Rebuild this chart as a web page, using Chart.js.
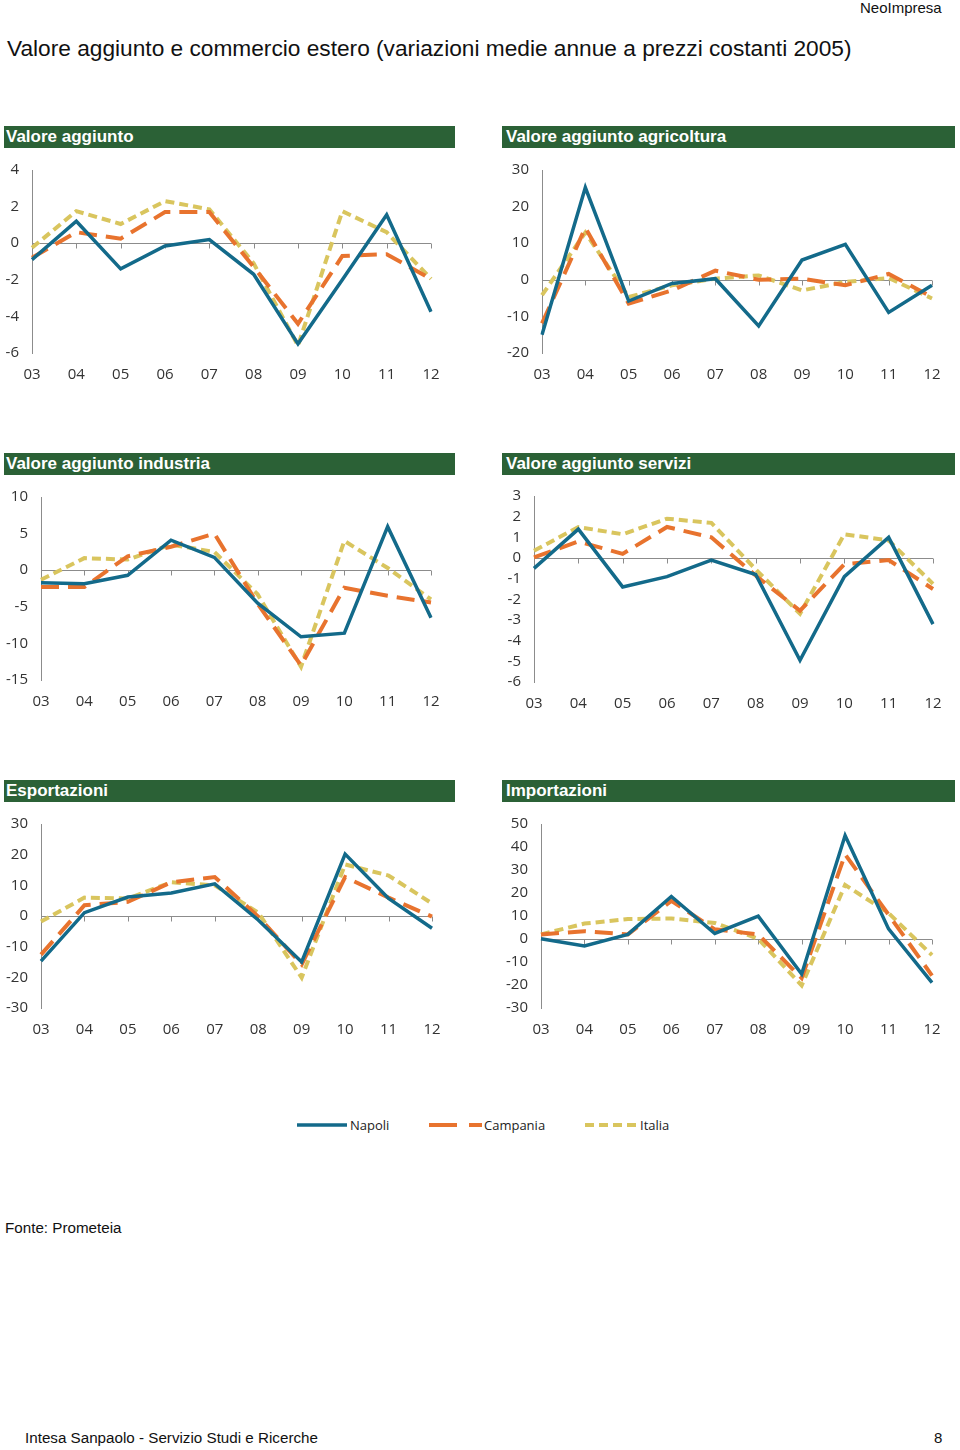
<!DOCTYPE html>
<html>
<head>
<meta charset="utf-8">
<script src="https://cdn.jsdelivr.net/npm/chart.js@4.4.1/dist/chart.umd.min.js"></script>
<style>
    body { margin: 0; width: 960px; height: 1450px; background: #fff; position: relative; font-family: "Liberation Sans", Arial, sans-serif; color: #111; }
    .abs { position: absolute; white-space: nowrap; }
    .bar { position: absolute; height: 22px; background: #2b6136; color: #fff; font-weight: bold; font-size: 17px; line-height: 22px; padding-left: 2px; box-sizing: border-box; }
    .bar.right { padding-left: 4px; }
    .box { position: absolute; }
    .legend { position: absolute; top: 1116px; font-family: "Open Sans", sans-serif; font-size: 13px; color: #222; display: flex; align-items: center; }
</style>
</head>
<body>
<div class="abs" style="left:860px; top:-1px; font-size:15px;">NeoImpresa</div>
<div class="abs" style="left:7px; top:35px; font-size:22.7px;">Valore aggiunto e commercio estero (variazioni medie annue a prezzi costanti 2005)</div>

<div class="bar" style="left:4px; top:126px; width:451px;">Valore aggiunto</div>
<div class="bar right" style="left:502px; top:126px; width:453px;">Valore aggiunto agricoltura</div>
<div class="bar" style="left:4px; top:453px; width:451px;">Valore aggiunto industria</div>
<div class="bar right" style="left:502px; top:453px; width:453px;">Valore aggiunto servizi</div>
<div class="bar" style="left:4px; top:780px; width:451px;">Esportazioni</div>
<div class="bar right" style="left:502px; top:780px; width:453px;">Importazioni</div>

<div class="box" id="b1"><canvas id="c1"></canvas></div>
<div class="box" id="b2"><canvas id="c2"></canvas></div>
<div class="box" id="b3"><canvas id="c3"></canvas></div>
<div class="box" id="b4"><canvas id="c4"></canvas></div>
<div class="box" id="b5"><canvas id="c5"></canvas></div>
<div class="box" id="b6"><canvas id="c6"></canvas></div>

<div class="legend" style="left:296px;">
    <svg width="52" height="8"><line x1="1" y1="4" x2="51" y2="4" stroke="#136a8a" stroke-width="3.5"/></svg>
    <span style="margin-left:2px;">Napoli</span>
</div>
<div class="legend" style="left:429px;">
    <svg width="53" height="8"><line x1="0" y1="4" x2="53" y2="4" stroke="#e8732e" stroke-width="4" stroke-dasharray="28,12"/></svg>
    <span style="margin-left:2px;">Campania</span>
</div>
<div class="legend" style="left:585px;">
    <svg width="53" height="8"><line x1="0" y1="4" x2="53" y2="4" stroke="#d9c55e" stroke-width="4" stroke-dasharray="9,5"/></svg>
    <span style="margin-left:2px;">Italia</span>
</div>

<div class="abs" style="left:5px; top:1219px; font-size:15.2px;">Fonte: Prometeia</div>
<div class="abs" style="left:25px; top:1429px; font-size:15.2px;">Intesa Sanpaolo - Servizio Studi e Ricerche</div>
<div class="abs" style="left:934px; top:1429px; font-size:15px;">8</div>

<script>
    "use strict";

    const years = ['03', '04', '05', '06', '07', '08', '09', '10', '11', '12'];

    // Valore aggiunto
    const vaNapoli = [-0.9, 1.2, -1.4, -0.15, 0.2, -1.7, -5.5, -2.0, 1.55, -3.75];
    const vaCampania = [-0.8, 0.6, 0.25, 1.7, 1.7, -1.3, -4.4, -0.7, -0.6, -1.95];
    const vaItalia = [-0.25, 1.75, 1.05, 2.3, 1.85, -1.1, -5.6, 1.75, 0.6, -1.95];

    // Valore aggiunto agricoltura
    const agrNapoli = [-15, 25.2, -5.8, -1, 0.3, -12.6, 5.4, 9.7, -8.9, -1.5];
    const agrCampania = [-11.9, 14.2, -6.5, -2.9, 2.5, 0, 0.3, -1.5, 1.6, -4.7];
    const agrItalia = [-4.2, 12.9, -4.7, -1.5, 0.3, 1.2, -2.9, -0.6, 0.5, -5.1];

    // Valore aggiunto industria
    const indNapoli = [-1.7, -1.85, -0.7, 4.1, 1.75, -4.5, -9.1, -8.6, 5.95, -6.5];
    const indCampania = [-2.3, -2.3, 1.9, 3.2, 5.0, -4.6, -13.0, -2.4, -3.5, -4.4];
    const indItalia = [-1.3, 1.65, 1.45, 3.5, 2.5, -3.3, -13.2, 4.0, 0.3, -4.0];

    // Valore aggiunto servizi
    const serNapoli = [-0.5, 1.4, -1.4, -0.9, -0.1, -0.8, -4.95, -0.9, 1.0, -3.2];
    const serCampania = [0.03, 0.8, 0.2, 1.5, 1.0, -0.85, -2.55, -0.3, -0.1, -1.5];
    const serItalia = [0.35, 1.5, 1.15, 1.9, 1.7, -0.55, -2.7, 1.15, 0.85, -1.25];

    // Esportazioni
    const expNapoli = [-14.7, 1.1, 6.2, 7.5, 10.5, -1.3, -15, 20.2, 5.7, -4];
    const expCampania = [-12.6, 3.5, 4.6, 11, 12.7, -0.2, -15.8, 12.7, 6, -0.2];
    const expItalia = [-1.8, 6, 5.7, 11, 10, 1.1, -20.1, 16.8, 13.2, 4.1];

    // Importazioni
    const impNapoli = [0.1, -3, 2, 18.5, 2.4, 9.9, -15.2, 45, 4.4, -19];
    const impCampania = [2, 3.4, 2, 16.6, 4.2, 2, -17, 36.8, 10.6, -15.9];
    const impItalia = [2, 6.7, 8.7, 8.9, 7, 0.1, -20.2, 23.5, 11.3, -7];

    const colNapoli = '#136a8a';
    const colCampania = '#e8732e';
    const colItalia = '#d9c55e';

    // zero line with small tick marks under each category
    const zeroLine = {
        id: 'zeroLine',
        beforeDatasetsDraw(chart) {
            const x = chart.scales.x;
            const y = chart.scales.y;
            const ctx = chart.ctx;
            const y0 = Math.round(y.getPixelForValue(0)) + 0.5;
            ctx.save();
            ctx.strokeStyle = '#8c8c8c';
            ctx.lineWidth = 1;
            ctx.beginPath();
            ctx.moveTo(chart.chartArea.left, y0);
            ctx.lineTo(chart.chartArea.right, y0);
            for (let i = 1; i < years.length; i++) {
                const px = Math.round(x.getPixelForValue(i)) + 0.5;
                ctx.moveTo(px, y0);
                ctx.lineTo(px, y0 + 5);
            }
            ctx.stroke();
            ctx.restore();
        }
    };

    function makeChart(num, napoli, campania, italia, min, max, step, geo) {
        const box = document.getElementById('b' + num);
        const canvasLeft = geo.left < 480 ? 0 : 485;
        const canvasTop = geo.top - 20;
        const width = 475;
        const height = geo.bottom - canvasTop + 40;
        box.style.left = canvasLeft + 'px';
        box.style.top = canvasTop + 'px';
        box.style.width = width + 'px';
        box.style.height = height + 'px';

        new Chart(document.getElementById('c' + num), {
            type: 'line',
            data: {
                labels: years,
                datasets: [
                    { label: 'Italia', data: italia, borderColor: colItalia, borderWidth: 4, borderDash: [9, 5], order: 3 },
                    { label: 'Campania', data: campania, borderColor: colCampania, borderWidth: 4, borderDash: [18, 9], order: 2 },
                    { label: 'Napoli', data: napoli, borderColor: colNapoli, borderWidth: 3.5, order: 1 }
                ]
            },
            options: {
                responsive: true,
                maintainAspectRatio: false,
                animation: false,
                events: [],
                elements: {
                    point: { radius: 0 },
                    line: { tension: 0, borderCapStyle: 'butt', borderJoinStyle: 'miter' }
                },
                layout: {
                    padding: { top: geo.top - canvasTop, right: canvasLeft + width - geo.right, left: 0, bottom: 0 }
                },
                plugins: { legend: { display: false }, tooltip: { enabled: false } },
                scales: {
                    x: {
                        offset: false,
                        grid: { display: false, drawTicks: false },
                        border: { display: false },
                        ticks: { color: '#333', font: { family: 'Open Sans', size: 15 }, padding: 13, maxRotation: 0, autoSkip: false },
                        afterFit(s) { s.height = canvasTop + height - geo.bottom; }
                    },
                    y: {
                        min: min,
                        max: max,
                        grid: { display: false, drawTicks: false },
                        border: { display: true, color: '#8c8c8c', width: 1 },
                        ticks: { stepSize: step, autoSkip: false, color: '#333', font: { family: 'Open Sans', size: 15 }, padding: 13 },
                        afterFit(s) { s.width = geo.left - canvasLeft; }
                    }
                }
            },
            plugins: [zeroLine]
        });
    }

    makeChart(1, vaNapoli, vaCampania, vaItalia, -6, 4, 2, { left: 32, right: 431, top: 168, bottom: 353 });
    makeChart(2, agrNapoli, agrCampania, agrItalia, -20, 30, 10, { left: 542, right: 932, top: 168, bottom: 353 });
    makeChart(3, indNapoli, indCampania, indItalia, -15, 10, 5, { left: 41, right: 431, top: 495, bottom: 680 });
    makeChart(4, serNapoli, serCampania, serItalia, -6, 3, 1, { left: 534, right: 933, top: 494, bottom: 682 });
    makeChart(5, expNapoli, expCampania, expItalia, -30, 30, 10, { left: 41, right: 432, top: 822, bottom: 1008 });
    makeChart(6, impNapoli, impCampania, impItalia, -30, 50, 10, { left: 541, right: 932, top: 822, bottom: 1008 });
</script>
</body>
</html>
